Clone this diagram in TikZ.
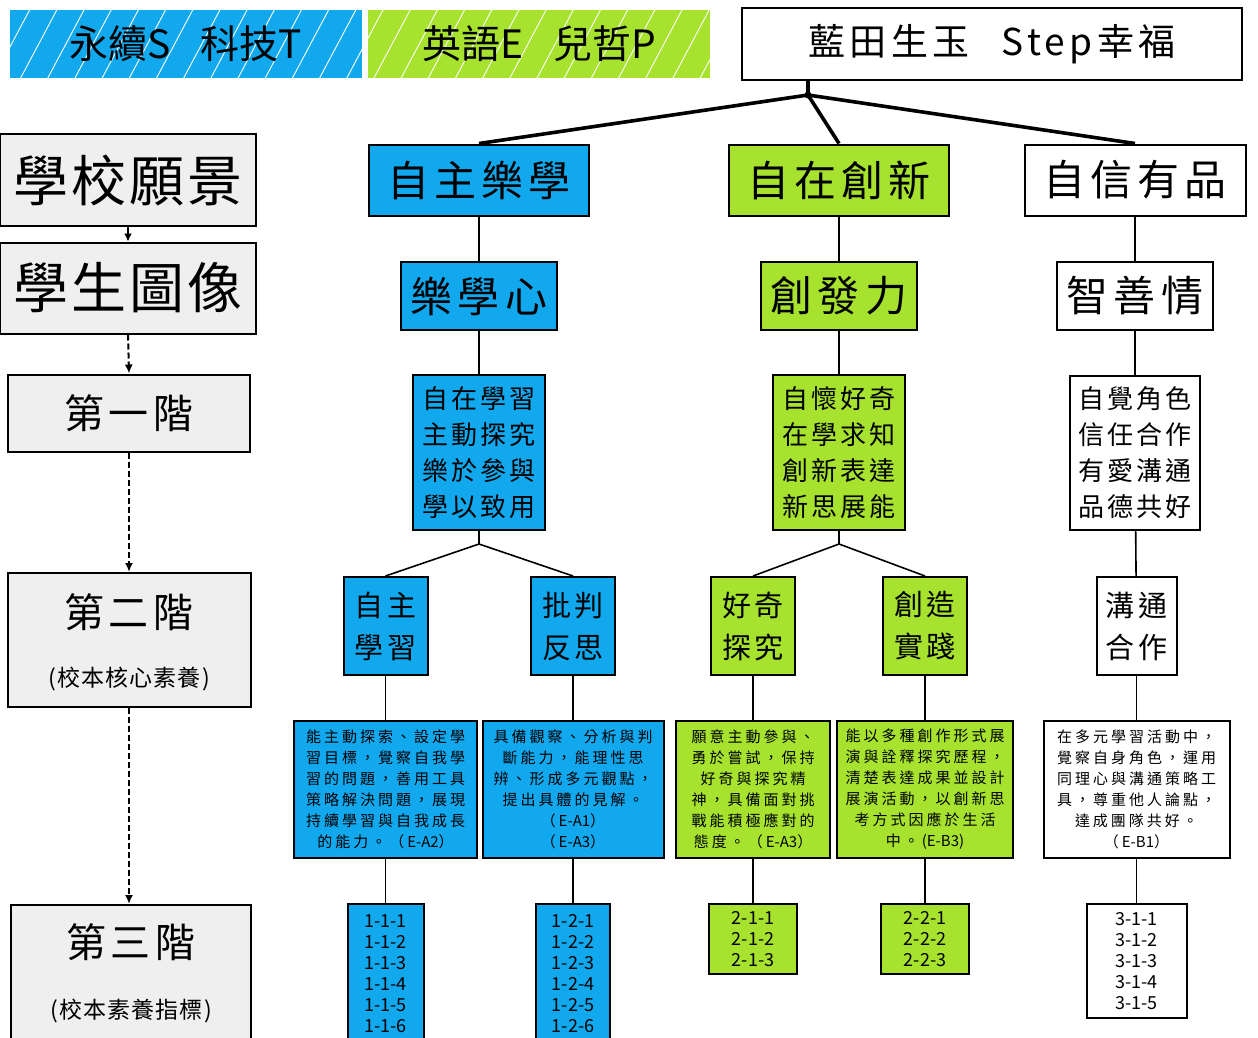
\documentclass[tikz,border=0pt]{standalone}
\usepackage{fontspec}
\setmainfont{Noto Sans CJK TC}
\newfontfamily\lsn[LetterSpace=5]{Noto Sans CJK TC}
\newfontfamily\ls[LetterSpace=12]{Noto Sans CJK TC}
\newfontfamily\lsw[LetterSpace=20]{Noto Sans CJK TC}
\usetikzlibrary{arrows.meta, patterns.meta, positioning}
\definecolor{skyb}{HTML}{12A8EE}
\definecolor{limeg}{HTML}{A6E22E}
\definecolor{paleg}{HTML}{EFEFEF}

\begin{document}
\begin{tikzpicture}[x=1pt, y=-1pt,
	box/.style={draw, line width=2pt, inner sep=0pt, align=center},
	bluebox/.style={box, fill=skyb},
	greenbox/.style={box, fill=limeg},
	whitebox/.style={box, fill=white},
	lvlbox/.style={box, fill=paleg},
	banner/.style={inner sep=0pt, minimum height=68, font=\fontsize{39}{40}\selectfont,
		postaction={pattern={Lines[angle=62, distance=24pt, line width=0.9pt]}, pattern color=white}},
	huge/.style={font=\lsn\fontsize{55}{60}\selectfont},
	stagefont/.style={font=\ls\fontsize{40}{44}\selectfont},
	subfont/.style={font=\lsn\fontsize{23}{26}\selectfont},
	topfont/.style={font=\ls\fontsize{42}{46}\selectfont},
	setfont/.style={font=\ls\fontsize{26}{36}\selectfont},
	pairfont/.style={font=\ls\fontsize{29}{42}\selectfont},
	descfont/.style={font=\lsw\fontsize{15}{21}\selectfont},
	codefont/.style={font=\fontsize{18}{21}\selectfont},
	link/.style={line width=1.6pt},
	trunk/.style={line width=3.6pt},
	stagearrow/.style={line width=2pt, dash pattern=on 6pt off 3pt, -{Latex[length=9pt, width=8pt]}},
]
	\useasboundingbox (0,0) rectangle (1258,1037);
	\clip (0,0) rectangle (1258,1037);

	\node[banner, fill=skyb, minimum width=352] (stem) at (186,44) {永續S\hspace{30pt}科技T};
	\node[banner, fill=limeg, minimum width=342] (engphil) at (539,44) {英語E\hspace{30pt}兒哲P};
	\node[whitebox, minimum width=500, minimum height=72, font=\ls\fontsize{37}{40}\selectfont] (motto) at (992,44) {藍田生玉\hspace{32pt}Step幸福};

	\node[lvlbox, huge, minimum width=256, minimum height=92] (vision) at (128,180) {學校願景};
	\node[lvlbox, huge, minimum width=256, minimum height=91] (portrait) at (128,288) {學生圖像};
	\node[lvlbox, stagefont, minimum width=242, minimum height=77] (stage1) at (129,413) {第一階};
	\node[lvlbox, minimum width=243, minimum height=134] (stage2) at (129,640) {};
	\node[stagefont] (stage2t) at (129,612) {第二階};
	\node[subfont] (stage2s) at (129,679) {(校本核心素養)};
	\node[lvlbox, minimum width=240, minimum height=150] (stage3) at (131,980) {};
	\node[stagefont] (stage3t) at (131,942) {第三階};
	\node[subfont] (stage3s) at (131,1011) {(校本素養指標)};

	\draw[link, -{Latex[length=8pt, width=8pt]}] (vision.south) -- (portrait.north);
	\draw[stagearrow] (portrait.south) -- (stage1.north);
	\draw[stagearrow] (stage1.south) -- (stage2.north);
	\draw[stagearrow] (stage2.south) -- (stage2.south |- stage3.north);

	\node[bluebox, topfont, minimum width=220, minimum height=71] (selflearn) at (479,180) {自主樂學};
	\node[greenbox, topfont, minimum width=220, minimum height=71] (innovate) at (839,180) {自在創新};
	\node[whitebox, topfont, minimum width=221, minimum height=71] (confident) at (1135,180) {自信有品};

	\coordinate (hub) at (808,95);
	\draw[trunk] (motto.south -| hub) -- (hub);
	\draw[trunk] (hub) -- (selflearn.north);
	\draw[trunk] (hub) -- (innovate.north);
	\draw[trunk] (hub) -- (confident.north);
	\fill (hub) circle (3.5pt);

	\node[bluebox, topfont, minimum width=156, minimum height=68] (joyheart) at (479,296) {樂學心};
	\node[greenbox, topfont, minimum width=156, minimum height=68] (creapower) at (839,296) {創發力};
	\node[whitebox, topfont, minimum width=156, minimum height=68] (virtue) at (1135,296) {智善情};

	\node[bluebox, setfont, minimum width=132, minimum height=155] (joyset) at (479,452.5) {自在學習\\主動探究\\樂於參與\\學以致用};
	\node[greenbox, setfont, minimum width=132, minimum height=155] (creaset) at (839,452.5) {自懷好奇\\在學求知\\創新表達\\新思展能};
	\node[whitebox, setfont, minimum width=130, minimum height=154] (virtueset) at (1135,453) {自覺角色\\信任合作\\有愛溝通\\品德共好};

	\draw[link] (selflearn) -- (joyheart);
	\draw[link] (joyheart) -- (joyset);
	\draw[link] (innovate) -- (creapower);
	\draw[link] (creapower) -- (creaset);
	\draw[link] (confident) -- (virtue);
	\draw[link] (virtue) -- (virtueset);

	\node[bluebox, pairfont, minimum width=84, minimum height=98] (autolearn) at (385.5,626) {自主\\學習};
	\node[bluebox, pairfont, minimum width=84, minimum height=98] (critical) at (573,626) {批判\\反思};
	\node[greenbox, pairfont, minimum width=84, minimum height=98] (curious) at (753,626) {好奇\\探究};
	\node[greenbox, pairfont, minimum width=84, minimum height=98] (practice) at (925,626) {創造\\實踐};
	\node[whitebox, pairfont, minimum width=80, minimum height=98] (commune) at (1136.5,626) {溝通\\合作};

	\draw[link] (joyset.south) -- ++(0,13) coordinate (joyfork) -- (autolearn.north);
	\draw[link] (joyfork) -- (critical.north);
	\draw[link] (creaset.south) -- ++(0,13) coordinate (creafork) -- (curious.north);
	\draw[link] (creafork) -- (practice.north);
	\draw[link] (virtueset) -- (commune);

	\node[bluebox, descfont, minimum width=183, minimum height=137] (descauto) at (385.5,789.5) {能主動探索、設定學\\習目標，覺察自我學\\習的問題，善用工具\\策略解決問題，展現\\持續學習與自我成長\\的能力。（\textrm{E-A2}）};
	\node[bluebox, descfont, minimum width=181, minimum height=137] (desccrit) at (573,789.5) {具備觀察、分析與判\\斷能力，能理性思\\辨、形成多元觀點，\\提出具體的見解。\\（\textrm{E-A1}）\\（\textrm{E-A3}）};
	\node[greenbox, descfont, minimum width=154, minimum height=137] (desccuri) at (753,789.5) {願意主動參與、\\勇於嘗試，保持\\好奇與探究精\\神，具備面對挑\\戰能積極應對的\\態度。（\textrm{E-A3}）};
	\node[greenbox, descfont, minimum width=176, minimum height=137] (descprac) at (925,789.5) {能以多種創作形式展\\演與詮釋探究歷程，\\清楚表達成果並設計\\展演活動，以創新思\\考方式因應於生活\\中。\textrm{(E-B3)}};
	\node[whitebox, descfont, minimum width=186, minimum height=137] (desccomm) at (1136.5,789.5) {在多元學習活動中，\\覺察自身角色，運用\\同理心與溝通策略工\\具，尊重他人論點，\\達成團隊共好。\\（\textrm{E-B1}）};

	\draw[link] (autolearn) -- (descauto);
	\draw[link] (critical) -- (desccrit);
	\draw[link] (curious) -- (desccuri);
	\draw[link] (practice) -- (descprac);
	\draw[link] (commune) -- (desccomm);

	\node[bluebox, codefont, minimum width=76, minimum height=140] (codeauto) at (385.5,974) {1-1-1\\1-1-2\\1-1-3\\1-1-4\\1-1-5\\1-1-6};
	\node[bluebox, codefont, minimum width=74, minimum height=140] (codecrit) at (573,974) {1-2-1\\1-2-2\\1-2-3\\1-2-4\\1-2-5\\1-2-6};
	\node[greenbox, codefont, minimum width=88, minimum height=70] (codecuri) at (753,939) {2-1-1\\2-1-2\\2-1-3};
	\node[greenbox, codefont, minimum width=88, minimum height=70] (codeprac) at (925,939) {2-2-1\\2-2-2\\2-2-3};
	\node[whitebox, codefont, minimum width=100, minimum height=114] (codecomm) at (1136.5,961) {3-1-1\\3-1-2\\3-1-3\\3-1-4\\3-1-5};

	\draw[link] (descauto) -- (codeauto);
	\draw[link] (desccrit) -- (codecrit);
	\draw[link] (desccuri) -- (codecuri);
	\draw[link] (descprac) -- (codeprac);
	\draw[link] (desccomm) -- (codecomm);
\end{tikzpicture}
\end{document}
